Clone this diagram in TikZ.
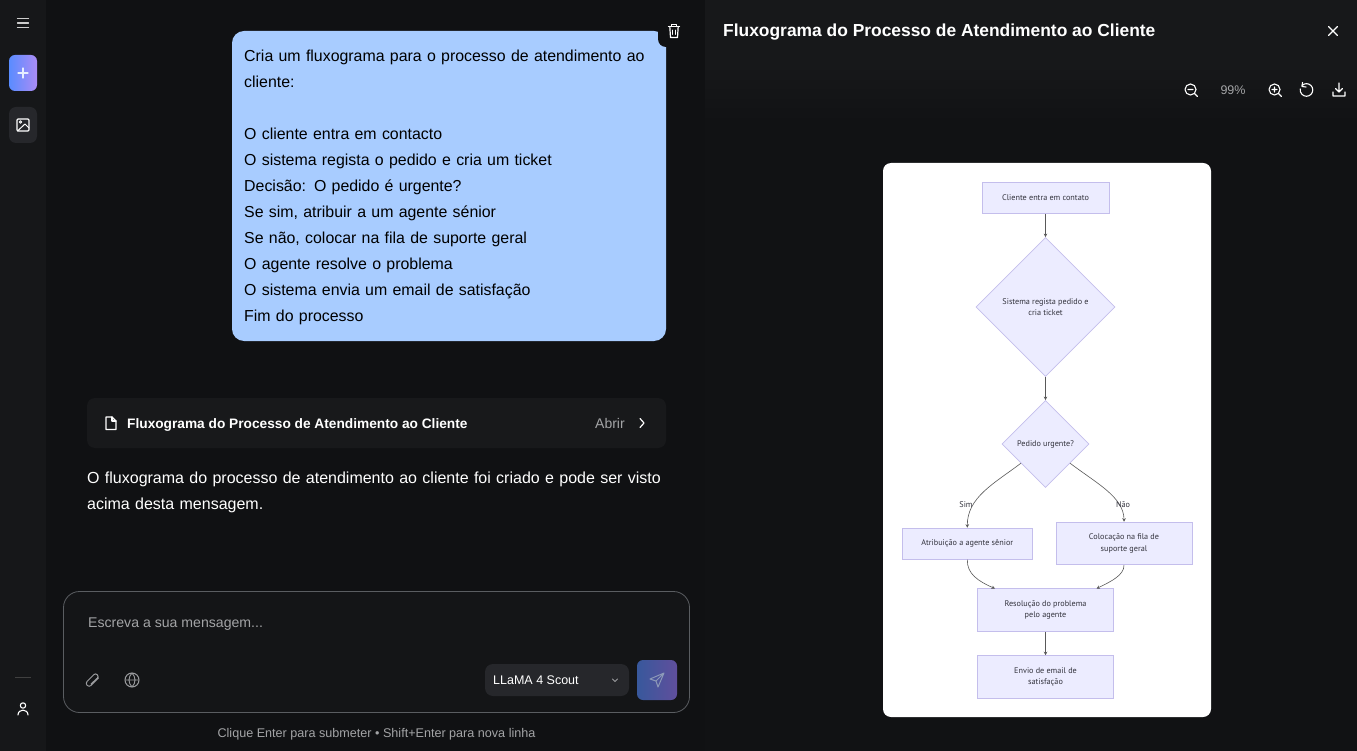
\documentclass[tikz,border=0pt]{standalone}
\usepackage{fontspec}
\setmainfont{Liberation Sans}
\newfontfamily\chartfont{PT Sans}
\usetikzlibrary{shapes.geometric,arrows.meta}

\definecolor{pagebg}{HTML}{101113}
\definecolor{sidebg}{HTML}{161719}
\definecolor{panelbg}{HTML}{111214}
\definecolor{headbg}{HTML}{17181A}
\definecolor{cardbg}{HTML}{18191B}
\definecolor{inputbg}{HTML}{141517}
\definecolor{inputline}{HTML}{5A5D61}
\definecolor{selectbg}{HTML}{26272B}
\definecolor{bubble}{HTML}{A8CCFF}
\definecolor{softgrey}{HTML}{A3A4A6}
\definecolor{icongrey}{HTML}{9A9B9E}
\definecolor{boxfill}{HTML}{ECECFF}
\definecolor{boxline}{HTML}{C4BEEC}
\definecolor{inktext}{HTML}{33333D}
\definecolor{plusleft}{HTML}{5A8CFF}
\definecolor{plusright}{HTML}{AB8CF5}
\definecolor{sendleft}{HTML}{38589C}
\definecolor{sendright}{HTML}{604F9C}
\definecolor{sendicon}{HTML}{8C99B8}

\tikzset{
    uitext/.style={inner sep=0pt, anchor=west, text=white, font=\fontsize{15.9}{26}\selectfont},
    greytext/.style={uitext, text=softgrey},
    icon/.style={draw=white, line width=1.2pt, line cap=round, line join=round},
    boxnode/.style={draw=boxline, fill=boxfill, line width=1pt, align=center, text=inktext,
        font=\chartfont\fontsize{8.2}{11.5}\selectfont},
    decisionnode/.style={boxnode, diamond, inner sep=0pt, aspect=1, line width=.8pt},
    flowline/.style={draw=black!65, line width=.6pt, -{Stealth[length=3.5pt,width=3.5pt]}},
    flowlabel/.style={inner sep=0pt, text=inktext, font=\chartfont\fontsize{8.2}{9}\selectfont}
}

\begin{document}
\begin{tikzpicture}[x=1pt,y=-1pt]
\useasboundingbox (0,0) rectangle (1357,751);

% Panels
\fill [pagebg] (0,0) rectangle (1357,751);
\fill [sidebg] (0,0) rectangle (46,751);
\fill [panelbg] (705,0) rectangle (1357,751);
\fill [headbg] (705,0) rectangle (1357,65);
\shade [top color=headbg, bottom color=panelbg] (705,65) rectangle (1357,122);

% Sidebar
\draw [icon, draw=white!80!black] (17.5,18.5) -- (28.5,18.5) (17.5,23) -- (28.5,23) (17.5,27.5) -- (28.5,27.5);
\shade [rounded corners=6pt, left color=plusleft, right color=plusright] (9,55) rectangle (37,91);
\draw [icon, draw=white!85!plusleft, line width=1.1pt] (18,73) -- (28,73) (23,68) -- (23,78);
\fill [selectbg, rounded corners=7pt] (9,107) rectangle (37,143);
\draw [icon, rounded corners=1pt] (17,119) rectangle (29,131);
\draw [icon, line width=1pt] (17.5,131) -- (25,124) -- (29,128);
\draw [icon, line width=.9pt] (20.5,122) circle (1.3);
\draw [draw=white!25!black, line width=.6pt] (15,677) -- (31,677);
\draw [icon, line width=1.1pt] (23,705.5) circle (2.7);
\draw [icon, line width=1.1pt] (18,715) .. controls (18,708.5) and (28,708.5) .. (28,715);

% User message
\node [inner sep=0pt, minimum width=434pt, minimum height=310pt, fill=bubble, rounded corners=12pt] (bubblebox) at (449,186){};
\node [uitext, text=black, align=left, text width=420pt] (bubbletext) at (244,187) {Cria um fluxograma para o processo de atendimento ao\\
cliente:\\[26pt]
O cliente entra em contacto\\
O sistema regista o pedido e cria um ticket\\
Decisão: O pedido é urgente?\\
Se sim, atribuir a um agente sénior\\
Se não, colocar na fila de suporte geral\\
O agente resolve o problema\\
O sistema envia um email de satisfação\\
Fim do processo};
\fill [pagebg, rounded corners=8pt] (658,14) rectangle (692,47);
\draw [icon, line width=1.2pt] (668.5,26.5) -- (679.5,26.5) (671.5,26.5) -- (671.5,24.5) -- (676.5,24.5) -- (676.5,26.5);
\draw [icon, line width=1.2pt] (669.8,26.5) -- (670.5,37.5) -- (677.5,37.5) -- (678.2,26.5);
\draw [icon, line width=.9pt] (672.6,30) -- (672.6,34.5) (675.4,30) -- (675.4,34.5);

% File card
\fill [cardbg, rounded corners=8pt] (87,398) rectangle (666,448);
\draw [icon, line width=1.1pt] (106,417) -- (112,417) -- (116,421) -- (116,429.5) -- (106,429.5) -- cycle;
\draw [icon, line width=1.1pt] (112,417) -- (112,421) -- (116,421);
\node [uitext, font=\bfseries\fontsize{13.7}{17}\selectfont] (cardtitle) at (127,424.5) {Fluxograma do Processo de Atendimento ao Cliente};
\node [greytext, font=\fontsize{14}{17}\selectfont] (cardopen) at (595,423) {Abrir};
\draw [icon, line width=1.2pt] (640,418.5) -- (644,423) -- (640,427.5);

% Reply
\node [uitext, align=left, text width=590pt, font=\fontsize{16}{26}\selectfont] (reply) at (87,492) {O fluxograma do processo de atendimento ao cliente foi criado e pode ser visto\\
acima desta mensagem.};

% Input box
\draw [inputline, fill=inputbg, line width=.8pt, rounded corners=16pt] (63.5,591.5) rectangle (689.5,712.5);
\node [greytext, font=\fontsize{14.1}{17}\selectfont] (placeholder) at (88,624) {Escreva a sua mensagem...};
\draw [icon, draw=icongrey, line width=1pt] (98.5,678) -- (91,685.5) .. controls (88.5,688) and (84.5,684) .. (87,681.5) -- (94,674.5) .. controls (96,672.5) and (99.5,676) .. (97.5,678) -- (91,684);
\draw [icon, draw=icongrey, line width=1pt] (132,680) circle (7);
\draw [icon, draw=icongrey, line width=.9pt] (125,680) -- (139,680) (132,673) .. controls (128,677) and (128,683) .. (132,687) .. controls (136,683) and (136,677) .. (132,673);
\fill [selectbg, rounded corners=8pt] (485,664) rectangle (629,696);
\node [uitext, font=\fontsize{12.5}{15}\selectfont] (modelname) at (493,680) {LLaMA 4 Scout};
\draw [icon, draw=icongrey, line width=.8pt] (612.5,679) -- (615,681.5) -- (617.5,679);
\shade [rounded corners=6pt, left color=sendleft, right color=sendright] (637,660) rectangle (677,700);
\draw [icon, draw=sendicon, line width=1pt] (650,679) -- (664,673) -- (658,687) -- (656,681) -- cycle (656,681) -- (664,673);
\node [greytext, anchor=center, font=\fontsize{12.6}{14}\selectfont] (hint) at (376.5,734) {Clique Enter para submeter • Shift+Enter para nova linha};

% Header
\node [uitext, font=\bfseries\fontsize{17.4}{21}\selectfont] (paneltitle) at (723,32) {Fluxograma do Processo de Atendimento ao Cliente};
\draw [icon, line width=1.1pt] (1328.5,26.5) -- (1337.5,35.5) (1337.5,26.5) -- (1328.5,35.5);
\draw [icon, line width=1.1pt] (1190.5,89.5) circle (5.5) (1194.5,93.5) -- (1197.5,96.5) (1188,89.5) -- (1193,89.5);
\node [greytext, anchor=center, font=\fontsize{12.5}{15}\selectfont] (zoomlevel) at (1233,90) {99\%};
\draw [icon, line width=1.1pt] (1274.5,89.5) circle (5.5) (1278.5,93.5) -- (1281.5,96.5) (1272,89.5) -- (1277,89.5) (1274.5,87) -- (1274.5,92);
\draw [icon, line width=1.1pt] (1302,85.5) arc (-135:190:6.3);
\draw [icon, line width=1.1pt] (1302.5,82.5) -- (1302,86.5) -- (1306,87);
\draw [icon, line width=1.1pt] (1339,83) -- (1339,92) (1335.5,88.5) -- (1339,92) -- (1342.5,88.5) (1333,92) -- (1333,96) -- (1345,96) -- (1345,92);

% Chart sheet
\fill [white, rounded corners=8pt] (883,163) rectangle (1211,717);

% Start
\node [boxnode,
    minimum width=127pt,
    minimum height=31pt] (contact) at (1045.5,198) {Cliente entra em contato};

% Ticket
\node [decisionnode,
    minimum width=139pt,
    minimum height=139pt] (ticket) at (1045.5,307) {Sistema regista pedido e\\cria ticket};

% Urgent
\node [decisionnode,
    minimum width=87pt,
    minimum height=87pt] (urgent) at (1045.5,444) {Pedido urgente?};

% Senior
\node [boxnode,
    minimum width=130.5pt,
    minimum height=31pt] (senior) at (967.3,543.7) {Atribuição a agente sênior};

% Queue
\node [boxnode,
    minimum width=136pt,
    minimum height=42.5pt] (queue) at (1124,543.5) {Colocação na fila de\\suporte geral};

% Resolve
\node [boxnode,
    minimum width=135.5pt,
    minimum height=42.5pt] (resolve) at (1045.5,610) {Resolução do problema\\pelo agente};

% Email
\node [boxnode,
    minimum width=135.5pt,
    minimum height=42.5pt] (email) at (1045.5,677) {Envio de email de\\satisfação};

\coordinate (resolveleft) at (995,588.6);
\coordinate (resolveright) at (1096.5,588.6);

% Connectors
\draw [flowline] (contact) -- (ticket);
\draw [flowline] (ticket) -- (urgent);
\draw [flowline] (urgent.218) .. controls (995,483) and (967,497) .. (senior.north);
\draw [flowline] (urgent.322) .. controls (1096,483) and (1124,497) .. (queue.north);
\draw [flowline] (senior.south) .. controls (967,574) and (978,581) .. (resolveleft);
\draw [flowline] (queue.south) .. controls (1124,575) and (1112,581) .. (resolveright);
\draw [flowline] (resolve) -- (email);

% Edge labels
\node [flowlabel] (yes) at (966,504.5) {Sim};
\node [flowlabel] (no) at (1123,504.5) {Não};

\end{tikzpicture}
\end{document}
